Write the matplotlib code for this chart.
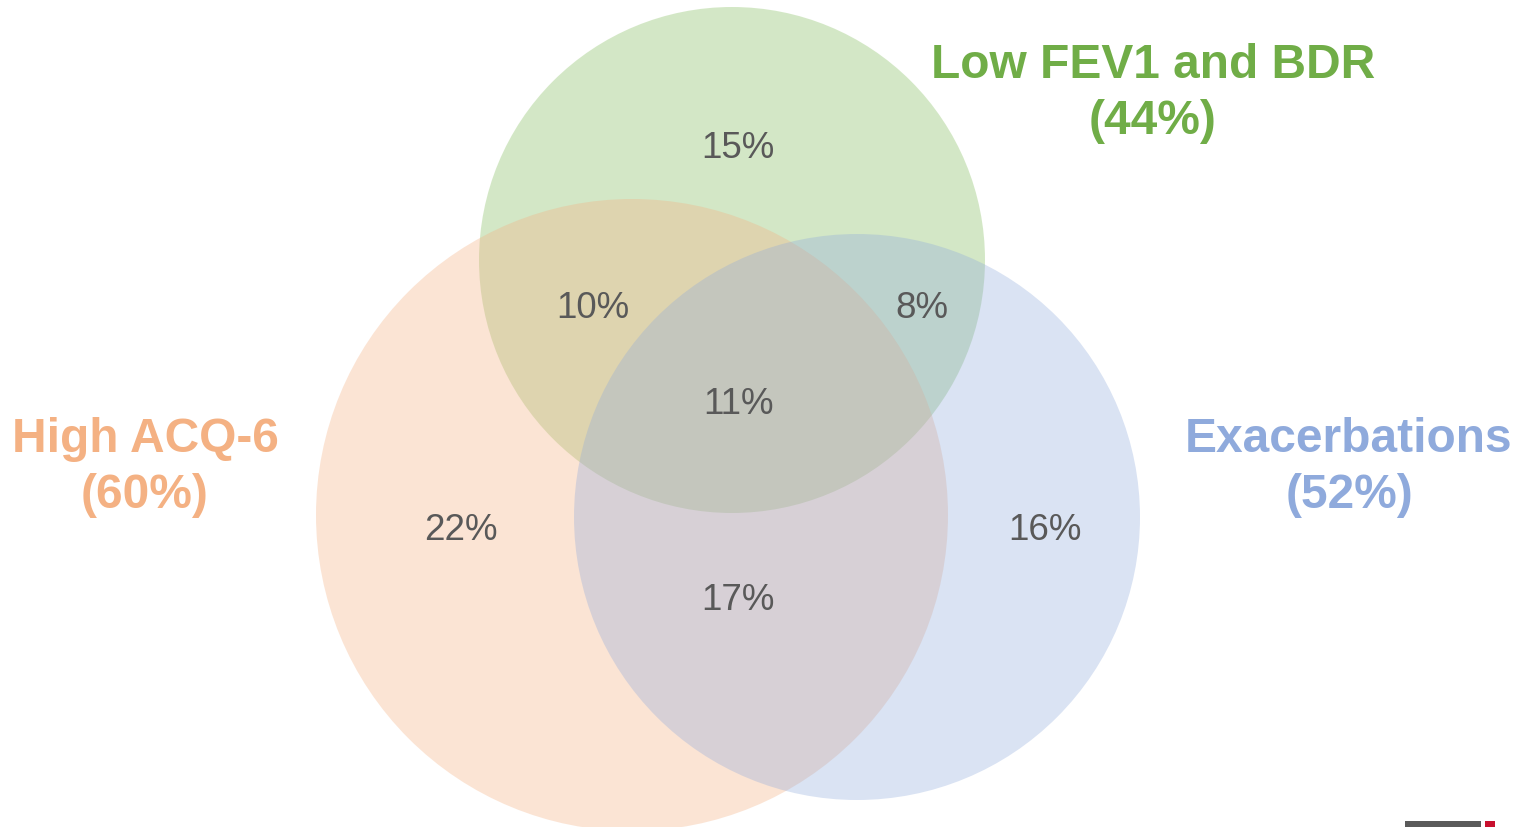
import matplotlib.pyplot as plt
from matplotlib.patches import Circle, Rectangle

plt.rcParams['font.family'] = ['Liberation Sans', 'DejaVu Sans']

# set names and their overall share
set_names = ['High ACQ-6', 'Exacerbations', 'Low FEV1 and BDR']
set_totals = ['60%', '52%', '44%']
set_colors = ['#f4b183', '#8faadc', '#70ad47']

# region labels: only-A, only-E, only-F, A&F, E&F, A&E, all
region_keys = ['A', 'E', 'F', 'AF', 'EF', 'AE', 'AEF']
region_values = ['22%', '16%', '15%', '10%', '8%', '17%', '11%']

W, H = 1518, 827
fig = plt.figure(figsize=(W / 100, H / 100), dpi=100)
ax = fig.add_axes([0, 0, 1, 1])
ax.set_xlim(0, W)
ax.set_ylim(H, 0)
ax.set_aspect('equal')
ax.axis('off')

# circle geometry (pixel layout)
circles = {
    'F': ((732, 260), 253, '#a9d18e', 0.5),
    'A': ((632, 515), 316, '#f4b183', 0.34),
    'E': ((857, 517), 283, '#8faadc', 0.33),
}
for key in ['F', 'A', 'E']:
    (cx, cy), r, col, a = circles[key]
    ax.add_patch(Circle((cx, cy), r, facecolor=col, alpha=a, edgecolor='none'))

region_pos = {
    'A': (461, 530), 'E': (1045, 530), 'F': (738, 149),
    'AF': (593, 308), 'EF': (922, 308), 'AE': (738, 601), 'AEF': (738, 405),
}
for k, v in zip(region_keys, region_values):
    x, y = region_pos[k]
    ax.text(x, y, v, ha='center', va='center', fontsize=26.5, color='#595959')

name_pos = [(145, 439), (1349, 439), (1153, 65)]
for name, tot, col, (x, y) in zip(set_names, set_totals, set_colors, name_pos):
    ax.text(x, y, name, ha='center', va='center', fontsize=34.5,
            fontweight='bold', color=col)
    ax.text(x, y + 57, '(' + tot + ')', ha='center', va='center', fontsize=34.5,
            fontweight='bold', color=col)

# logo fragment at the bottom-right corner
ax.add_patch(Rectangle((1405, 821), 76, 8, facecolor='#5a5a5a', edgecolor='none'))
ax.add_patch(Rectangle((1485, 821), 10, 8, facecolor='#c8102e', edgecolor='none'))

fig.savefig('out.png', dpi=100)
